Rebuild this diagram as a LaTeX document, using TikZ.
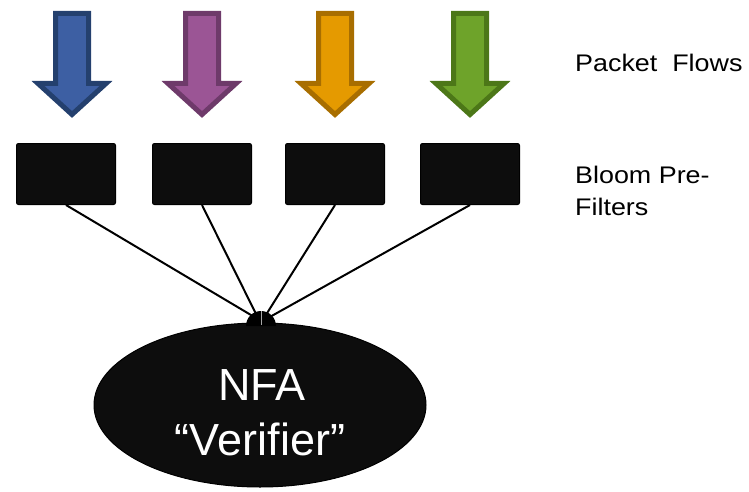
\documentclass[tikz,border=0pt]{standalone}
\usetikzlibrary{shapes.geometric}
\usepackage{fontspec}
\setmainfont{Liberation Sans}
\definecolor{bluef}{HTML}{3D5FA3}\definecolor{bluel}{HTML}{24406E}
\definecolor{purpf}{HTML}{9B5595}\definecolor{purpl}{HTML}{6E3A6A}
\definecolor{orgf}{HTML}{E59A00}\definecolor{orgl}{HTML}{A86E00}
\definecolor{grnf}{HTML}{6EA32A}\definecolor{grnl}{HTML}{4C7718}
\definecolor{boxf}{HTML}{0D0D0D}
\begin{document}
\begin{tikzpicture}[x=1pt,y=-1pt,
  flowarrow/.style={line width=5pt,line join=miter},
  filterbox/.style={draw=black,fill=boxf,line width=1pt,rounded corners=2pt,minimum width=99pt,minimum height=61pt,inner sep=0pt},
  link/.style={line width=2pt,black},
  sidelabel/.style={anchor=base west,inner sep=0pt,font=\fontsize{24}{28}\selectfont},
  bigtext/.style={anchor=base,inner sep=0pt,text=white,font=\fontsize{45}{50}\selectfont}]
\useasboundingbox (0,0) rectangle (749,492);
% arrows
\foreach \cx/\fc/\lc in {72/bluef/bluel,202/purpf/purpl,335/orgf/orgl,470/grnf/grnl}{
  \draw[flowarrow,draw=\lc,fill=\fc] (\cx-16.5,13.5) -- (\cx+16.5,13.5) -- (\cx+16.5,83.5) -- (\cx+34,83.5) -- (\cx,114.5) -- (\cx-34,83.5) -- (\cx-16.5,83.5) -- cycle;
}
% filters
\node[filterbox] (f1) at (66,174) {};
\node[filterbox] (f2) at (202,174) {};
\node[filterbox] (f3) at (335,174) {};
\node[filterbox] (f4) at (470,174) {};
% verifier
\node[ellipse,draw=black,fill=boxf,line width=1pt,minimum width=332pt,minimum height=164pt,inner sep=0pt] (v) at (260,405) {};
\coordinate (j1) at (256,318);
\coordinate (j2) at (258,318);
\coordinate (j3) at (264,318);
\coordinate (j4) at (268,318);
\draw[link] (f1.south) -- (j1);
\draw[link] (f2.south) -- (j2);
\draw[link] (f3.south) -- (j3);
\draw[link] (f4.south) -- (j4);
\fill[black] (261,326) ++(-15,0) arc[start angle=180,end angle=360,radius=15] -- cycle;
\coordinate (g1) at (261,311);
\coordinate (g2) at (261,325);
\draw[gray!70,line width=0.8pt] (g1) -- (g2);
\node[bigtext] (t1) at (262,400) {NFA};
\node[bigtext] (t2) at (260,455) {“Verifier”};
% labels
\node[sidelabel] (l1) at (575,72) {\scalebox{1.12}[1]{Packet\ \ Flows}};
\node[sidelabel] (l2) at (575,183) {\scalebox{1.12}[1]{Bloom Pre-}};
\node[sidelabel] (l3) at (575,215) {\scalebox{1.12}[1]{Filters}};
\end{tikzpicture}
\end{document}
